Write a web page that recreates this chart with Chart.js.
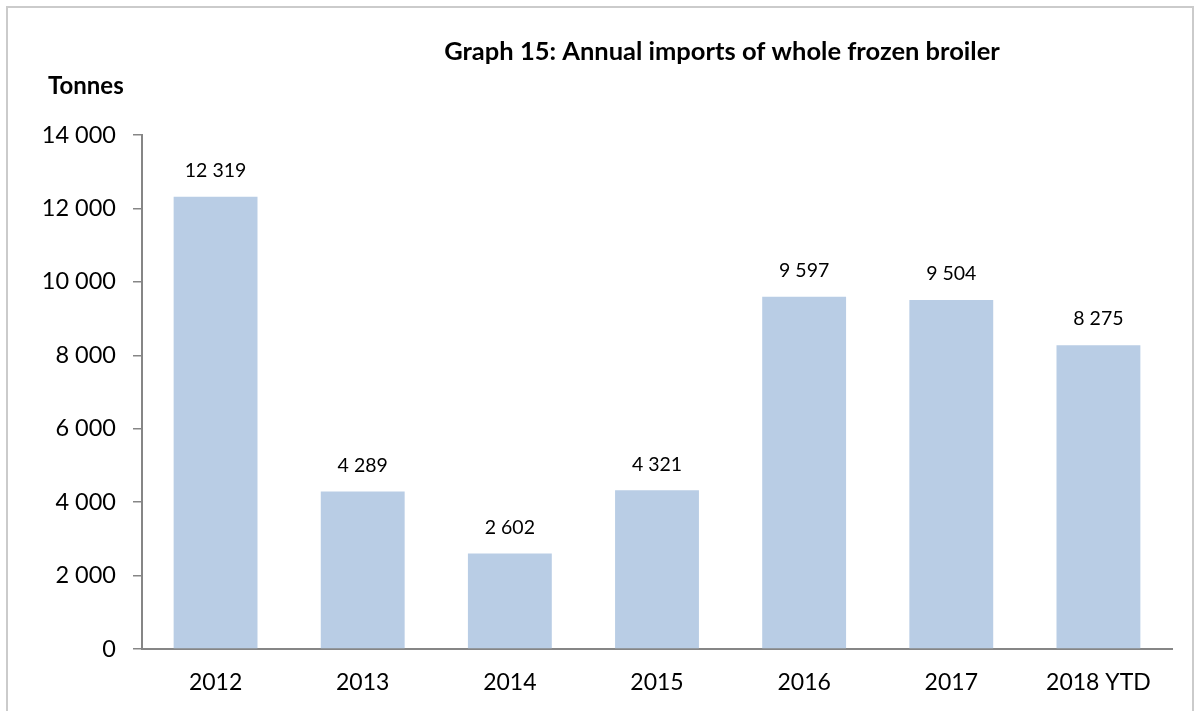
<!DOCTYPE html>
<html>
<head>
<meta charset="utf-8">
<script src="https://cdn.jsdelivr.net/npm/chart.js@4"></script>
<style>
  html, body { margin: 0; padding: 0; background: #fff; overflow: hidden; }
  #wrap { position: relative; width: 1202px; height: 711px; }
  #frame { position: absolute; left: 6px; top: 6px; width: 1188px; height: 760px; border: 2px solid #cbcbcb; box-sizing: border-box; }
  canvas { position: absolute; left: 0; top: 0; }
</style>
</head>
<body>
<div id="wrap">
  <div id="frame"></div>
  <canvas id="myChart" width="1202" height="711"></canvas>
</div>
<script>
const titleText = 'Graph 15: Annual imports of whole frozen broiler';
const unitLabel = 'Tonnes';
const years = ['2012', '2013', '2014', '2015', '2016', '2017', '2018 YTD'];
const imports = [12319, 4289, 2602, 4321, 9597, 9504, 8275];
const yMin = 0, yMax = 14000, yStep = 2000;

const FONT = 'Lato, "Open Sans", sans-serif';

function spaced(v){
    return String(Math.round(v)).replace(/\B(?=(\d{3})+(?!\d))/g, ' ');
}

// title, unit label and the value labels above bars
const extras = {
    id: 'extras',
    afterDatasetsDraw(chart){
        const ctx = chart.ctx;
        ctx.save();
        ctx.fillStyle = '#000';
        ctx.textAlign = 'center';
        ctx.textBaseline = 'middle';
        ctx.font = 'bold 25.5px ' + FONT;
        ctx.fillText(titleText, 722, 52);
        ctx.font = 'bold 24px ' + FONT;
        ctx.textAlign = 'left';
        ctx.fillText(unitLabel, 48, 86);

        ctx.font = '19.5px ' + FONT;
        ctx.textAlign = 'center';
        const meta = chart.getDatasetMeta(0);
        meta.data.forEach(function (bar, i){
            ctx.fillText(spaced(imports[i]), bar.x, bar.y - 26);
        });
        ctx.restore();
    }
};

new Chart(document.getElementById('myChart'), {
    type: 'bar',
    data: {
        labels: years,
        datasets: [{
            data: imports,
            backgroundColor: '#B9CDE5',
            borderWidth: 0,
            categoryPercentage: 1,
            barPercentage: 0.57
        }]
    },
    options: {
        responsive: false,
        animation: false,
        devicePixelRatio: 1,
        layout: { padding: { top: 135, right: 30, left: 0, bottom: 0 } },
        plugins: {
            legend: { display: false },
            title: { display: false },
            tooltip: { enabled: false }
        },
        scales: {
            x: {
                afterFit(scale){ scale.height = 62; },
                grid: { display: true, drawOnChartArea: false, drawTicks: false },
                border: { display: true, color: '#868686', width: 2 },
                ticks: { color: '#000', padding: 20, font: { family: FONT, size: 23 } }
            },
            y: {
                min: yMin,
                max: yMax,
                afterFit(scale){ scale.width = 142; },
                grid: { drawOnChartArea: false, drawTicks: true, tickLength: 9, color: '#868686', lineWidth: 1.5 },
                border: { display: true, color: '#868686', width: 2 },
                ticks: {
                    stepSize: yStep,
                    color: '#000',
                    padding: 17,
                    font: { family: FONT, size: 23.5 },
                    callback: function (v){ return spaced(v); }
                }
            }
        }
    },
    plugins: [extras]
});
</script>
</body>
</html>
